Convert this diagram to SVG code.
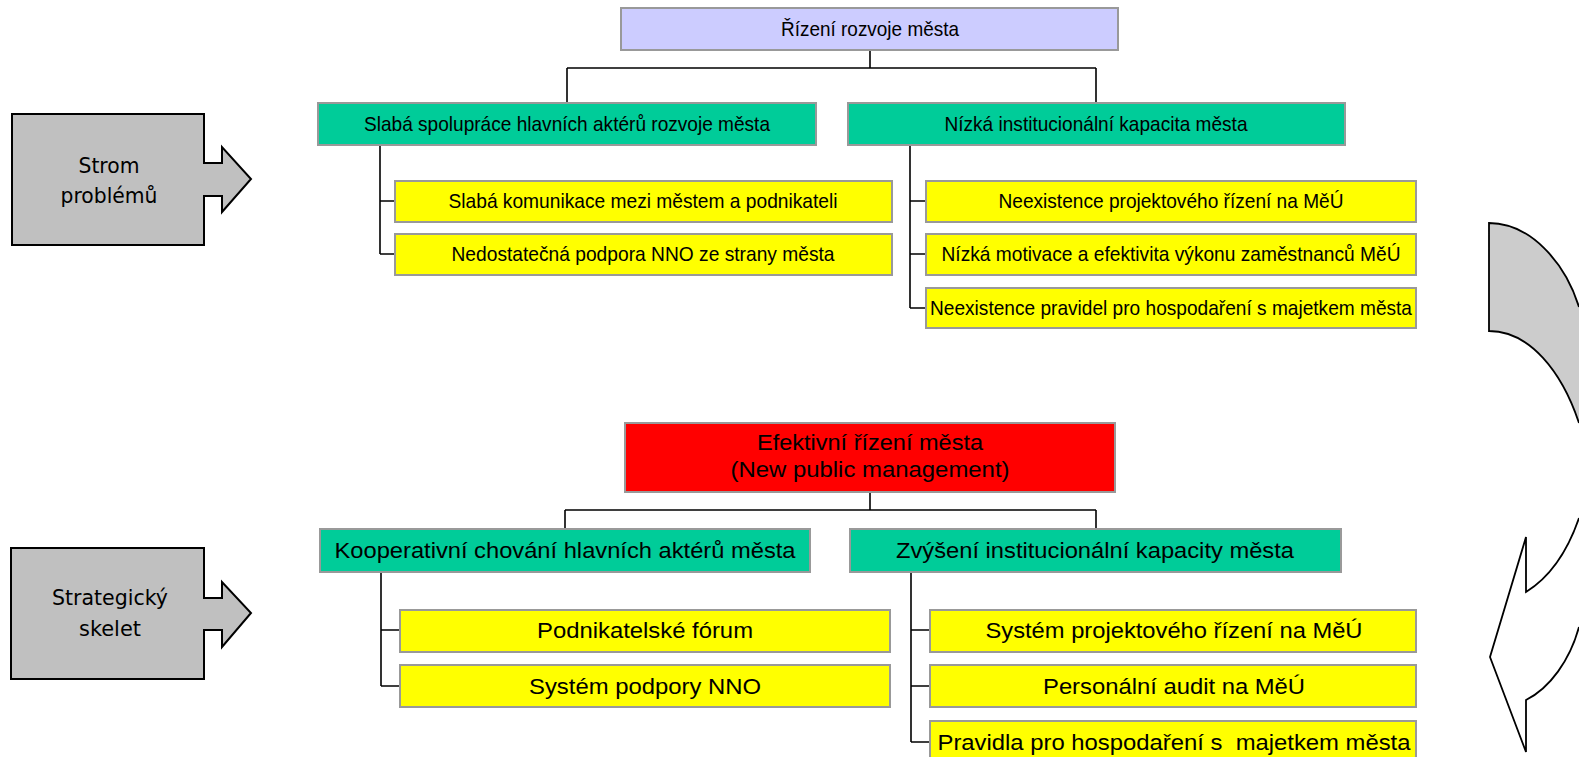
<svg xmlns="http://www.w3.org/2000/svg" width="1579" height="757" viewBox="0 0 1579 757">
<style>
.box{stroke:#999999;stroke-width:2}
.lav{fill:#CCCCFF}.grn{fill:#00CC99}.yel{fill:#FFFF00}.red{fill:#FF0000}
.t{font-family:"Liberation Sans Narrow","Liberation Sans",Arial,sans-serif;font-size:21px;fill:#000;text-anchor:middle}
.b{font-family:"Liberation Sans",Arial,sans-serif;font-size:22px;fill:#000;text-anchor:middle}
.l{font-family:"DejaVu Sans",Verdana,sans-serif;font-size:22px;fill:#000;text-anchor:middle}
.conn{fill:none;stroke:#000;stroke-width:1.6}
.side{fill:#C0C0C0;stroke:#000;stroke-width:2;stroke-linejoin:miter}
</style>
<rect width="1579" height="757" fill="#fff"/>

<g id="connectors">
<path class="conn" d="M870,50V68M567,68H1096M567,68V103M1096,68V103"/>
<path class="conn" d="M380,145V254M380,201H395M380,254H395"/>
<path class="conn" d="M910,145V308M910,201H926M910,254H926M910,308H926"/>
<path class="conn" d="M870,492V510M565,510H1096M565,510V529M1096,510V529"/>
<path class="conn" d="M381,572V686M381,630H400M381,686H400"/>
<path class="conn" d="M911,572V742M911,630H930M911,686H930M911,742H930"/>
</g>

<g id="strom">
<path class="side" d="M12,114H204V163H222V147L251,179L222,212V196H204V245H12Z"/>
<text class="l" x="109" y="173" textLength="61" lengthAdjust="spacingAndGlyphs">Strom</text>
<text class="l" x="109" y="203" textLength="97" lengthAdjust="spacingAndGlyphs">problémů</text>
</g>
<g id="skelet">
<path class="side" d="M11,548H204V598H222V582L251,613L222,647V630H204V679H11Z"/>
<text class="l" x="110" y="605" textLength="116" lengthAdjust="spacingAndGlyphs">Strategický</text>
<text class="l" x="110" y="636" textLength="62" lengthAdjust="spacingAndGlyphs">skelet</text>
</g>

<g id="cycle">
<path d="M1579,423C1562,372 1530,331 1489,331L1489,223C1530,223 1565,262 1579,307" fill="#CCCCCC" stroke="#000" stroke-width="1.8"/>
<path d="M1579,518C1568,550 1550,577 1526,592L1526,537L1490,657L1526,752L1526,700C1550,688 1570,660 1579,627" fill="#fff" stroke="#000" stroke-width="1.8"/>
</g>

<g id="n_root">
<rect class="box lav" x="621" y="8" width="497" height="42"/>
<text class="t" x="870" y="36" textLength="178" lengthAdjust="spacingAndGlyphs">Řízení rozvoje města</text>
</g>
<g id="n_a">
<rect class="box grn" x="318" y="103" width="498" height="42"/>
<text class="t" x="567" y="131" textLength="406" lengthAdjust="spacingAndGlyphs">Slabá spolupráce hlavních aktérů rozvoje města</text>
</g>
<g id="n_b">
<rect class="box grn" x="848" y="103" width="497" height="42"/>
<text class="t" x="1096" y="131" textLength="303" lengthAdjust="spacingAndGlyphs">Nízká institucionální kapacita města</text>
</g>
<g id="n_a1">
<rect class="box yel" x="395" y="181" width="497" height="41"/>
<text class="t" x="643" y="208" textLength="389" lengthAdjust="spacingAndGlyphs">Slabá komunikace mezi městem a podnikateli</text>
</g>
<g id="n_a2">
<rect class="box yel" x="395" y="234" width="497" height="41"/>
<text class="t" x="643" y="261" textLength="383" lengthAdjust="spacingAndGlyphs">Nedostatečná podpora NNO ze strany města</text>
</g>
<g id="n_b1">
<rect class="box yel" x="926" y="181" width="490" height="41"/>
<text class="t" x="1171" y="208" textLength="345" lengthAdjust="spacingAndGlyphs">Neexistence projektového řízení na MěÚ</text>
</g>
<g id="n_b2">
<rect class="box yel" x="926" y="234" width="490" height="41"/>
<text class="t" x="1171" y="261" textLength="459" lengthAdjust="spacingAndGlyphs">Nízká motivace a efektivita výkonu zaměstnanců MěÚ</text>
</g>
<g id="n_b3">
<rect class="box yel" x="926" y="288" width="490" height="40"/>
<text class="t" x="1171" y="315" textLength="482" lengthAdjust="spacingAndGlyphs">Neexistence pravidel pro hospodaření s majetkem města</text>
</g>

<g id="s_root">
<rect class="box red" x="625" y="423" width="490" height="69"/>
<text class="b" x="870" y="450" textLength="226" lengthAdjust="spacingAndGlyphs">Efektivní řízení města</text>
<text class="b" x="870" y="477" textLength="279" lengthAdjust="spacingAndGlyphs">(New public management)</text>
</g>
<g id="s_a">
<rect class="box grn" x="320" y="529" width="490" height="43"/>
<text class="b" x="565" y="558" textLength="461" lengthAdjust="spacingAndGlyphs">Kooperativní chování hlavních aktérů města</text>
</g>
<g id="s_b">
<rect class="box grn" x="850" y="529" width="491" height="43"/>
<text class="b" x="1095" y="558" textLength="398" lengthAdjust="spacingAndGlyphs">Zvýšení institucionální kapacity města</text>
</g>
<g id="s_a1">
<rect class="box yel" x="400" y="610" width="490" height="42"/>
<text class="b" x="645" y="638" textLength="216" lengthAdjust="spacingAndGlyphs">Podnikatelské fórum</text>
</g>
<g id="s_a2">
<rect class="box yel" x="400" y="665" width="490" height="42"/>
<text class="b" x="645" y="694" textLength="232" lengthAdjust="spacingAndGlyphs">Systém podpory NNO</text>
</g>
<g id="s_b1">
<rect class="box yel" x="930" y="610" width="486" height="42"/>
<text class="b" x="1174" y="638" textLength="377" lengthAdjust="spacingAndGlyphs">Systém projektového řízení na MěÚ</text>
</g>
<g id="s_b2">
<rect class="box yel" x="930" y="665" width="486" height="42"/>
<text class="b" x="1174" y="694" textLength="262" lengthAdjust="spacingAndGlyphs">Personální audit na MěÚ</text>
</g>
<g id="s_b3">
<rect class="box yel" x="930" y="721" width="486" height="42"/>
<text class="b" x="1174" y="750" textLength="473" lengthAdjust="spacingAndGlyphs" xml:space="preserve">Pravidla pro hospodaření s  majetkem města</text>
</g>
</svg>
